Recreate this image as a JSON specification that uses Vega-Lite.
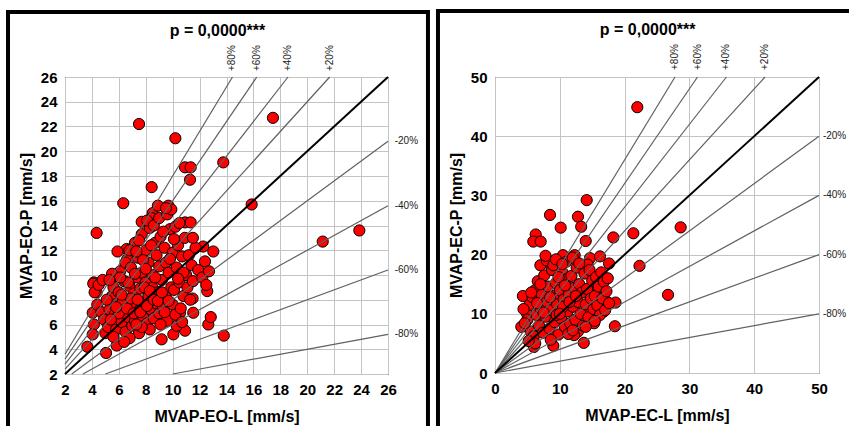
{
  "$schema": "https://vega.github.io/schema/vega-lite/v6.json",
  "padding": {"left": 5, "top": 8, "right": 0, "bottom": 0},
  "background": "white",
  "config": {
    "view": {"stroke": "#000", "strokeWidth": 1},
    "font": "Liberation Sans",
    "concat": {"spacing": 4},
    "axis": {
      "grid": true, "gridColor": "#c4c4c4", "gridWidth": 1, "domain": false, "ticks": false,
      "labelFont": "Liberation Sans", "labelFontSize": 15, "labelFontWeight": "bold", "labelColor": "#000",
      "labelPadding": 8, "labelFlush": false, "labelOverlap": false,
      "titleFont": "Liberation Sans", "titleFontSize": 16, "titleFontWeight": "bold", "titleColor": "#000"
    },
    "axisX": {"titlePadding": 11},
    "axisY": {"titlePadding": 6}
  },
  "datasets": {
    "eo": [
      {"x":7.5,"y":22.2},{"x":10.2,"y":21.05},{"x":17.45,"y":22.7},{"x":4.35,"y":13.4},{"x":6.33,"y":15.8},{"x":8.44,"y":17.1},{"x":10.92,"y":18.7},{"x":11.34,"y":18.7},{"x":11.29,"y":17.7},{"x":13.76,"y":19.1},{"x":15.87,"y":15.7},{"x":21.15,"y":12.7},{"x":23.87,"y":13.6},{"x":9.68,"y":15.6},{"x":9.64,"y":15.2},{"x":8.51,"y":15.0},{"x":7.7,"y":14.3},{"x":8.44,"y":14.6},{"x":10.92,"y":14.25},{"x":11.34,"y":14.25},{"x":13.02,"y":11.9},{"x":12.27,"y":12.3},{"x":6.58,"y":12.1},{"x":6.63,"y":11.3},{"x":5.84,"y":9.9},{"x":4.15,"y":9.4},
      {"x":3.66,"y":4.2},{"x":5.05,"y":3.7},{"x":5.84,"y":4.3},{"x":9.18,"y":4.8},{"x":13.8,"y":5.1},{"x":12.65,"y":6.0},{"x":12.83,"y":6.6},{"x":12.57,"y":8.7},{"x":11.48,"y":8.1},{"x":10.92,"y":5.5},{"x":10.05,"y":5.2},{"x":10.3,"y":5.9},{"x":11.53,"y":6.95},{"x":10.55,"y":6.95},{"x":4.06,"y":6.95},{"x":4.15,"y":6.0},{"x":4.06,"y":5.2},{"x":4.35,"y":8.6},{"x":4.1,"y":9.3},
      {"x":4.2,"y":8.6},{"x":4.5,"y":9.2},{"x":4.8,"y":9.6},{"x":4.4,"y":7.6},{"x":4.7,"y":7.0},{"x":4.9,"y":6.4},{"x":5.0,"y":5.3},{"x":5.2,"y":5.8},{"x":5.3,"y":7.2},{"x":5.5,"y":8.3},{"x":5.6,"y":9.0},{"x":5.7,"y":6.8},{"x":5.8,"y":5.6},{"x":5.9,"y":7.7},{"x":6.0,"y":8.6},{"x":6.1,"y":10.3},{"x":6.2,"y":6.2},{"x":6.3,"y":7.0},{"x":6.4,"y":9.5},{"x":6.5,"y":11.0},{"x":6.5,"y":5.4},{"x":6.6,"y":8.0},{"x":6.7,"y":6.6},{"x":6.8,"y":9.1},{"x":6.9,"y":10.6},{"x":7.0,"y":5.9},{"x":7.0,"y":7.5},{"x":7.1,"y":8.5},{"x":7.2,"y":12.6},{"x":7.2,"y":6.3},{"x":7.3,"y":9.8},{"x":7.4,"y":11.4},{"x":7.5,"y":7.1},{"x":7.5,"y":5.3},{"x":7.6,"y":8.9},{"x":7.7,"y":10.2},{"x":7.7,"y":13.3},{"x":7.8,"y":6.6},{"x":7.9,"y":7.8},{"x":8.0,"y":9.4},{"x":8.0,"y":12.0},{"x":8.1,"y":6.1},{"x":8.2,"y":11.0},{"x":8.2,"y":8.3},{"x":8.3,"y":13.8},{"x":8.4,"y":7.2},{"x":8.5,"y":10.0},{"x":8.5,"y":9.0},{"x":8.6,"y":6.5},{"x":8.7,"y":12.6},{"x":8.8,"y":7.7},{"x":8.8,"y":11.6},{"x":8.9,"y":8.6},{"x":9.0,"y":10.7},{"x":9.0,"y":6.9},{"x":9.1,"y":13.1},{"x":9.2,"y":9.6},{"x":9.3,"y":7.4},{"x":9.4,"y":12.2},{"x":9.5,"y":8.2},{"x":9.5,"y":11.0},{"x":9.6,"y":6.3},{"x":9.7,"y":10.2},{"x":9.8,"y":13.7},{"x":9.9,"y":9.0},{"x":10.0,"y":7.6},{"x":10.0,"y":11.8},{"x":10.1,"y":8.8},{"x":10.2,"y":6.8},{"x":10.3,"y":10.6},{"x":10.4,"y":12.4},{"x":10.5,"y":9.4},{"x":10.6,"y":7.3},{"x":10.7,"y":11.5},{"x":10.8,"y":8.3},{"x":10.9,"y":13.0},{"x":11.0,"y":10.0},{"x":11.1,"y":9.0},{"x":11.2,"y":11.6},{"x":11.4,"y":10.8},{"x":11.5,"y":9.5},{"x":11.7,"y":12.2},{"x":11.9,"y":10.4},{"x":12.2,"y":9.8},{"x":12.4,"y":11.1},{"x":12.5,"y":9.2},{"x":12.7,"y":10.3},
      {"x":6.0,"y":6.9},{"x":6.3,"y":7.9},{"x":6.6,"y":7.3},{"x":6.9,"y":8.1},{"x":7.1,"y":6.9},{"x":7.4,"y":8.0},{"x":7.6,"y":7.0},{"x":7.9,"y":9.0},{"x":8.1,"y":7.5},{"x":8.3,"y":8.7},{"x":8.6,"y":8.0},{"x":8.9,"y":7.9},{"x":9.2,"y":8.6},{"x":9.4,"y":7.0},{"x":9.7,"y":7.9},{"x":5.4,"y":6.4},{"x":5.8,"y":7.4},{"x":6.2,"y":8.4},{"x":6.7,"y":9.4},{"x":7.2,"y":10.1},{"x":7.8,"y":11.2},{"x":8.4,"y":12.4},{"x":5.1,"y":8.0},{"x":5.5,"y":10.1},{"x":5.9,"y":11.9},{"x":6.8,"y":12.0},{"x":7.5,"y":12.8},{"x":8.1,"y":14.4},{"x":8.6,"y":14.0},{"x":9.0,"y":14.6},{"x":9.3,"y":13.5},{"x":9.6,"y":14.9},{"x":9.9,"y":15.3},{"x":10.2,"y":13.9},{"x":10.5,"y":14.2},{"x":8.9,"y":15.6},{"x":9.5,"y":15.4},{"x":10.1,"y":12.9},{"x":11.5,"y":13.0},{"x":10.8,"y":10.2},{"x":7.3,"y":11.9},{"x":6.1,"y":9.8},{"x":5.3,"y":9.6},{"x":8.0,"y":10.5},{"x":8.7,"y":9.8},{"x":9.8,"y":11.3},{"x":10.4,"y":9.7},{"x":11.3,"y":8.0},{"x":10.7,"y":6.2},{"x":9.1,"y":6.0},{"x":8.3,"y":5.6},{"x":7.7,"y":5.8},{"x":6.8,"y":4.9},{"x":7.3,"y":6.0},{"x":5.6,"y":5.0},{"x":6.4,"y":4.6}
    ],
    "ec": [
      {"x":21.96,"y":44.9},{"x":14.15,"y":29.2},{"x":8.49,"y":26.7},{"x":12.8,"y":26.4},{"x":10.14,"y":24.55},{"x":13.3,"y":24.7},{"x":6.28,"y":23.4},{"x":5.91,"y":22.2},{"x":7.05,"y":22.2},{"x":14.0,"y":22.3},{"x":18.26,"y":22.9},{"x":21.35,"y":23.6},{"x":28.65,"y":24.6},{"x":22.3,"y":18.1},{"x":10.5,"y":19.9},{"x":12.3,"y":19.9},{"x":14.66,"y":19.4},{"x":16.2,"y":19.7},{"x":8.18,"y":18.6},{"x":9.5,"y":18.8},{"x":17.6,"y":18.5},{"x":14.3,"y":18.3},{"x":26.7,"y":13.2},{"x":18.6,"y":11.9},{"x":18.5,"y":7.9},{"x":17.1,"y":12.2},{"x":13.7,"y":5.1},{"x":9.0,"y":4.6},{"x":6.0,"y":4.4},{"x":4.3,"y":13.0},{"x":4.06,"y":7.8},{"x":4.9,"y":10.1},{"x":15.3,"y":8.4},{"x":12.8,"y":7.0},{"x":12.2,"y":6.4},{"x":15.4,"y":13.7},{"x":16.8,"y":10.4},{"x":14.25,"y":10.1},
      {"x":5.0,"y":9.0},{"x":5.3,"y":11.5},{"x":5.5,"y":7.0},{"x":5.8,"y":12.8},{"x":6.0,"y":6.2},{"x":6.2,"y":14.0},{"x":6.4,"y":9.8},{"x":6.6,"y":15.5},{"x":6.8,"y":8.0},{"x":7.0,"y":11.0},{"x":7.2,"y":13.2},{"x":7.4,"y":6.8},{"x":7.6,"y":16.5},{"x":7.8,"y":9.5},{"x":8.0,"y":12.0},{"x":8.2,"y":14.6},{"x":8.4,"y":7.5},{"x":8.6,"y":10.6},{"x":8.8,"y":17.4},{"x":9.0,"y":13.0},{"x":9.2,"y":8.6},{"x":9.4,"y":15.2},{"x":9.6,"y":11.6},{"x":9.8,"y":6.5},{"x":10.0,"y":14.0},{"x":10.2,"y":9.2},{"x":10.4,"y":17.0},{"x":10.6,"y":12.4},{"x":10.8,"y":7.8},{"x":11.0,"y":15.8},{"x":11.2,"y":10.4},{"x":11.4,"y":13.4},{"x":11.6,"y":8.4},{"x":11.8,"y":16.4},{"x":12.0,"y":11.2},{"x":12.2,"y":14.4},{"x":12.4,"y":9.0},{"x":12.6,"y":17.8},{"x":12.8,"y":12.0},{"x":13.0,"y":15.0},{"x":13.2,"y":10.0},{"x":13.4,"y":13.6},{"x":13.6,"y":8.0},{"x":13.8,"y":16.8},{"x":14.0,"y":11.6},{"x":14.2,"y":14.2},{"x":14.4,"y":9.4},{"x":14.6,"y":17.4},{"x":14.8,"y":12.6},{"x":15.0,"y":15.6},{"x":15.2,"y":10.8},{"x":15.4,"y":13.0},{"x":15.6,"y":16.2},{"x":15.8,"y":11.4},{"x":16.0,"y":14.6},{"x":16.2,"y":9.8},{"x":16.4,"y":17.0},{"x":16.6,"y":12.6},{"x":16.8,"y":15.4},{"x":17.0,"y":10.6},{"x":17.2,"y":13.8},{"x":17.4,"y":16.0},{"x":17.6,"y":11.8},
      {"x":7.0,"y":18.2},{"x":8.0,"y":19.0},{"x":9.0,"y":18.2},{"x":11.0,"y":18.8},{"x":12.0,"y":19.5},{"x":13.0,"y":18.5},{"x":6.5,"y":11.8},{"x":7.5,"y":10.2},{"x":8.5,"y":12.8},{"x":9.5,"y":9.8},{"x":10.5,"y":11.2},{"x":11.5,"y":12.0},{"x":12.5,"y":13.0},{"x":9.8,"y":16.2},{"x":10.8,"y":14.8},{"x":8.6,"y":5.6},{"x":11.3,"y":6.6},{"x":10.0,"y":10.0},{"x":12.0,"y":7.2},{"x":14.0,"y":7.8},{"x":15.4,"y":8.8},{"x":6.2,"y":5.0},{"x":5.2,"y":5.4},{"x":4.6,"y":8.4},{"x":4.4,"y":10.8},{"x":5.6,"y":13.6},{"x":7.0,"y":15.0},{"x":7.8,"y":19.8},{"x":9.4,"y":19.2},{"x":10.4,"y":18.4}
    ],
    "eoLines": [
      {"k":"+80%","pt":"start","x":2,"y":3.6},{"k":"+80%","pt":"end","x":14.444,"y":26},
      {"k":"+60%","pt":"start","x":2,"y":3.2},{"k":"+60%","pt":"end","x":16.25,"y":26},
      {"k":"+40%","pt":"start","x":2,"y":2.8},{"k":"+40%","pt":"end","x":18.571,"y":26},
      {"k":"+20%","pt":"start","x":2,"y":2.4},{"k":"+20%","pt":"end","x":21.667,"y":26},
      {"k":"0%","pt":"start","x":2,"y":2},{"k":"0%","pt":"end","x":26,"y":26},
      {"k":"-20%","pt":"start","x":2.5,"y":2},{"k":"-20%","pt":"end","x":26,"y":20.8},
      {"k":"-40%","pt":"start","x":3.333,"y":2},{"k":"-40%","pt":"end","x":26,"y":15.6},
      {"k":"-60%","pt":"start","x":5,"y":2},{"k":"-60%","pt":"end","x":26,"y":10.4},
      {"k":"-80%","pt":"start","x":10,"y":2},{"k":"-80%","pt":"end","x":26,"y":5.2}
    ],
    "ecLines": [
      {"k":"+80%","pt":"start","x":0,"y":0},{"k":"+80%","pt":"end","x":27.778,"y":50},
      {"k":"+60%","pt":"start","x":0,"y":0},{"k":"+60%","pt":"end","x":31.25,"y":50},
      {"k":"+40%","pt":"start","x":0,"y":0},{"k":"+40%","pt":"end","x":35.714,"y":50},
      {"k":"+20%","pt":"start","x":0,"y":0},{"k":"+20%","pt":"end","x":41.667,"y":50},
      {"k":"0%","pt":"start","x":0,"y":0},{"k":"0%","pt":"end","x":50,"y":50},
      {"k":"-20%","pt":"start","x":0,"y":0},{"k":"-20%","pt":"end","x":50,"y":40},
      {"k":"-40%","pt":"start","x":0,"y":0},{"k":"-40%","pt":"end","x":50,"y":30},
      {"k":"-60%","pt":"start","x":0,"y":0},{"k":"-60%","pt":"end","x":50,"y":20},
      {"k":"-80%","pt":"start","x":0,"y":0},{"k":"-80%","pt":"end","x":50,"y":10}
    ]
  },
  "hconcat": [
    {
      "width": 323, "height": 297,
      "layer": [
        {
          "data": {"values": [{}]},
          "mark": {"type": "rect", "fill": null, "stroke": "#000", "strokeWidth": 4},
          "encoding": {
            "x": {"datum": -2.235, "type": "quantitative", "scale": {"domain": [2, 26], "nice": false, "zero": false},
                  "axis": {"values": [2,4,6,8,10,12,14,16,18,20,22,24,26], "title": "MVAP-EO-L [mm/s]"}},
            "x2": {"datum": 28.97},
            "y": {"datum": 31.25, "type": "quantitative", "scale": {"domain": [2, 26], "nice": false, "zero": false},
                  "axis": {"values": [2,4,6,8,10,12,14,16,18,20,22,24,26], "title": "MVAP-EO-P [mm/s]"}},
            "y2": {"datum": -3.82}
          }
        },
        {
          "data": {"name": "eo"},
          "mark": {"type": "circle", "size": 125, "fill": "#ff0000", "stroke": "#000", "strokeWidth": 1, "opacity": 1},
          "encoding": {
            "x": {"field": "x", "type": "quantitative", "scale": {"domain": [2, 26], "nice": false, "zero": false},
                  "axis": {"values": [2,4,6,8,10,12,14,16,18,20,22,24,26], "title": "MVAP-EO-L [mm/s]"}},
            "y": {"field": "y", "type": "quantitative", "scale": {"domain": [2, 26], "nice": false, "zero": false},
                  "axis": {"values": [2,4,6,8,10,12,14,16,18,20,22,24,26], "title": "MVAP-EO-P [mm/s]"}}
          }
        },
        {
          "data": {"name": "eoLines"},
          "transform": [{"filter": "datum.k != '0%'"}],
          "mark": {"type": "line", "color": "#606060", "strokeWidth": 1.2},
          "encoding": {
            "x": {"field": "x", "type": "quantitative", "scale": {"domain": [2, 26], "nice": false, "zero": false},
                  "axis": {"values": [2,4,6,8,10,12,14,16,18,20,22,24,26], "title": "MVAP-EO-L [mm/s]"}},
            "y": {"field": "y", "type": "quantitative", "scale": {"domain": [2, 26], "nice": false, "zero": false},
                  "axis": {"values": [2,4,6,8,10,12,14,16,18,20,22,24,26], "title": "MVAP-EO-P [mm/s]"}},
            "detail": {"field": "k"}
          }
        },
        {
          "data": {"name": "eoLines"},
          "transform": [{"filter": "datum.k == '0%'"}],
          "mark": {"type": "line", "color": "#000", "strokeWidth": 2},
          "encoding": {
            "x": {"field": "x", "type": "quantitative", "scale": {"domain": [2, 26], "nice": false, "zero": false},
                  "axis": {"values": [2,4,6,8,10,12,14,16,18,20,22,24,26], "title": "MVAP-EO-L [mm/s]"}},
            "y": {"field": "y", "type": "quantitative", "scale": {"domain": [2, 26], "nice": false, "zero": false},
                  "axis": {"values": [2,4,6,8,10,12,14,16,18,20,22,24,26], "title": "MVAP-EO-P [mm/s]"}}
          }
        },
        {
          "data": {"name": "eoLines"},
          "transform": [{"filter": "datum.pt == 'end' && substring(datum.k, 0, 1) == '+'"}],
          "mark": {"type": "text", "angle": 270, "align": "left", "baseline": "middle", "fontSize": 10, "color": "#222", "font": "Liberation Sans"},
          "encoding": {
            "x": {"field": "x", "type": "quantitative", "scale": {"domain": [2, 26], "nice": false, "zero": false},
                  "axis": {"values": [2,4,6,8,10,12,14,16,18,20,22,24,26], "title": "MVAP-EO-L [mm/s]"}},
            "y": {"datum": 26.48, "type": "quantitative", "scale": {"domain": [2, 26], "nice": false, "zero": false},
                  "axis": {"values": [2,4,6,8,10,12,14,16,18,20,22,24,26], "title": "MVAP-EO-P [mm/s]"}},
            "text": {"field": "k"}
          }
        },
        {
          "data": {"name": "eoLines"},
          "transform": [{"filter": "datum.pt == 'end' && substring(datum.k, 0, 1) == '-'"}],
          "mark": {"type": "text", "align": "left", "baseline": "middle", "fontSize": 10, "color": "#222", "font": "Liberation Sans"},
          "encoding": {
            "x": {"datum": 26.5, "type": "quantitative", "scale": {"domain": [2, 26], "nice": false, "zero": false},
                  "axis": {"values": [2,4,6,8,10,12,14,16,18,20,22,24,26], "title": "MVAP-EO-L [mm/s]"}},
            "y": {"field": "y", "type": "quantitative", "scale": {"domain": [2, 26], "nice": false, "zero": false},
                  "axis": {"values": [2,4,6,8,10,12,14,16,18,20,22,24,26], "title": "MVAP-EO-P [mm/s]"}},
            "text": {"field": "k"}
          }
        },
        {
          "data": {"values": [{}]},
          "mark": {"type": "text", "text": "p = 0,0000***", "align": "center", "baseline": "alphabetic", "fontSize": 16, "fontWeight": "bold", "color": "#000", "font": "Liberation Sans"},
          "encoding": {
            "x": {"datum": 13.33, "type": "quantitative", "scale": {"domain": [2, 26], "nice": false, "zero": false},
                  "axis": {"values": [2,4,6,8,10,12,14,16,18,20,22,24,26], "title": "MVAP-EO-L [mm/s]"}},
            "y": {"datum": 29.31, "type": "quantitative", "scale": {"domain": [2, 26], "nice": false, "zero": false},
                  "axis": {"values": [2,4,6,8,10,12,14,16,18,20,22,24,26], "title": "MVAP-EO-P [mm/s]"}}
          }
        }
      ]
    },
    {
      "width": 324, "height": 296,
      "layer": [
        {
          "data": {"values": [{}]},
          "mark": {"type": "rect", "fill": null, "stroke": "#000", "strokeWidth": 4},
          "encoding": {
            "x": {"datum": -8.8, "type": "quantitative", "scale": {"domain": [0, 50], "nice": false},
                  "axis": {"values": [0,10,20,30,40,50], "title": "MVAP-EC-L [mm/s]"}},
            "x2": {"datum": 56.17},
            "y": {"datum": 61.15, "type": "quantitative", "scale": {"domain": [0, 50], "nice": false},
                  "axis": {"values": [0,10,20,30,40,50], "title": "MVAP-EC-P [mm/s]"}},
            "y2": {"datum": -12.16}
          }
        },
        {
          "data": {"name": "ec"},
          "mark": {"type": "circle", "size": 125, "fill": "#ff0000", "stroke": "#000", "strokeWidth": 1, "opacity": 1},
          "encoding": {
            "x": {"field": "x", "type": "quantitative", "scale": {"domain": [0, 50], "nice": false},
                  "axis": {"values": [0,10,20,30,40,50], "title": "MVAP-EC-L [mm/s]"}},
            "y": {"field": "y", "type": "quantitative", "scale": {"domain": [0, 50], "nice": false},
                  "axis": {"values": [0,10,20,30,40,50], "title": "MVAP-EC-P [mm/s]"}}
          }
        },
        {
          "data": {"name": "ecLines"},
          "transform": [{"filter": "datum.k != '0%'"}],
          "mark": {"type": "line", "color": "#606060", "strokeWidth": 1.2},
          "encoding": {
            "x": {"field": "x", "type": "quantitative", "scale": {"domain": [0, 50], "nice": false},
                  "axis": {"values": [0,10,20,30,40,50], "title": "MVAP-EC-L [mm/s]"}},
            "y": {"field": "y", "type": "quantitative", "scale": {"domain": [0, 50], "nice": false},
                  "axis": {"values": [0,10,20,30,40,50], "title": "MVAP-EC-P [mm/s]"}},
            "detail": {"field": "k"}
          }
        },
        {
          "data": {"name": "ecLines"},
          "transform": [{"filter": "datum.k == '0%'"}],
          "mark": {"type": "line", "color": "#000", "strokeWidth": 2},
          "encoding": {
            "x": {"field": "x", "type": "quantitative", "scale": {"domain": [0, 50], "nice": false},
                  "axis": {"values": [0,10,20,30,40,50], "title": "MVAP-EC-L [mm/s]"}},
            "y": {"field": "y", "type": "quantitative", "scale": {"domain": [0, 50], "nice": false},
                  "axis": {"values": [0,10,20,30,40,50], "title": "MVAP-EC-P [mm/s]"}}
          }
        },
        {
          "data": {"name": "ecLines"},
          "transform": [{"filter": "datum.pt == 'end' && substring(datum.k, 0, 1) == '+'"}],
          "mark": {"type": "text", "angle": 270, "align": "left", "baseline": "middle", "fontSize": 10, "color": "#222", "font": "Liberation Sans"},
          "encoding": {
            "x": {"field": "x", "type": "quantitative", "scale": {"domain": [0, 50], "nice": false},
                  "axis": {"values": [0,10,20,30,40,50], "title": "MVAP-EC-L [mm/s]"}},
            "y": {"datum": 51.18, "type": "quantitative", "scale": {"domain": [0, 50], "nice": false},
                  "axis": {"values": [0,10,20,30,40,50], "title": "MVAP-EC-P [mm/s]"}},
            "text": {"field": "k"}
          }
        },
        {
          "data": {"name": "ecLines"},
          "transform": [{"filter": "datum.pt == 'end' && substring(datum.k, 0, 1) == '-'"}],
          "mark": {"type": "text", "align": "left", "baseline": "middle", "fontSize": 10, "color": "#222", "font": "Liberation Sans"},
          "encoding": {
            "x": {"datum": 50.6, "type": "quantitative", "scale": {"domain": [0, 50], "nice": false},
                  "axis": {"values": [0,10,20,30,40,50], "title": "MVAP-EC-L [mm/s]"}},
            "y": {"field": "y", "type": "quantitative", "scale": {"domain": [0, 50], "nice": false},
                  "axis": {"values": [0,10,20,30,40,50], "title": "MVAP-EC-P [mm/s]"}},
            "text": {"field": "k"}
          }
        },
        {
          "data": {"values": [{}]},
          "mark": {"type": "text", "text": "p = 0,0000***", "align": "center", "baseline": "alphabetic", "fontSize": 16, "fontWeight": "bold", "color": "#000", "font": "Liberation Sans"},
          "encoding": {
            "x": {"datum": 23.56, "type": "quantitative", "scale": {"domain": [0, 50], "nice": false},
                  "axis": {"values": [0,10,20,30,40,50], "title": "MVAP-EC-L [mm/s]"}},
            "y": {"datum": 57.09, "type": "quantitative", "scale": {"domain": [0, 50], "nice": false},
                  "axis": {"values": [0,10,20,30,40,50], "title": "MVAP-EC-P [mm/s]"}}
          }
        }
      ]
    }
  ]
}
